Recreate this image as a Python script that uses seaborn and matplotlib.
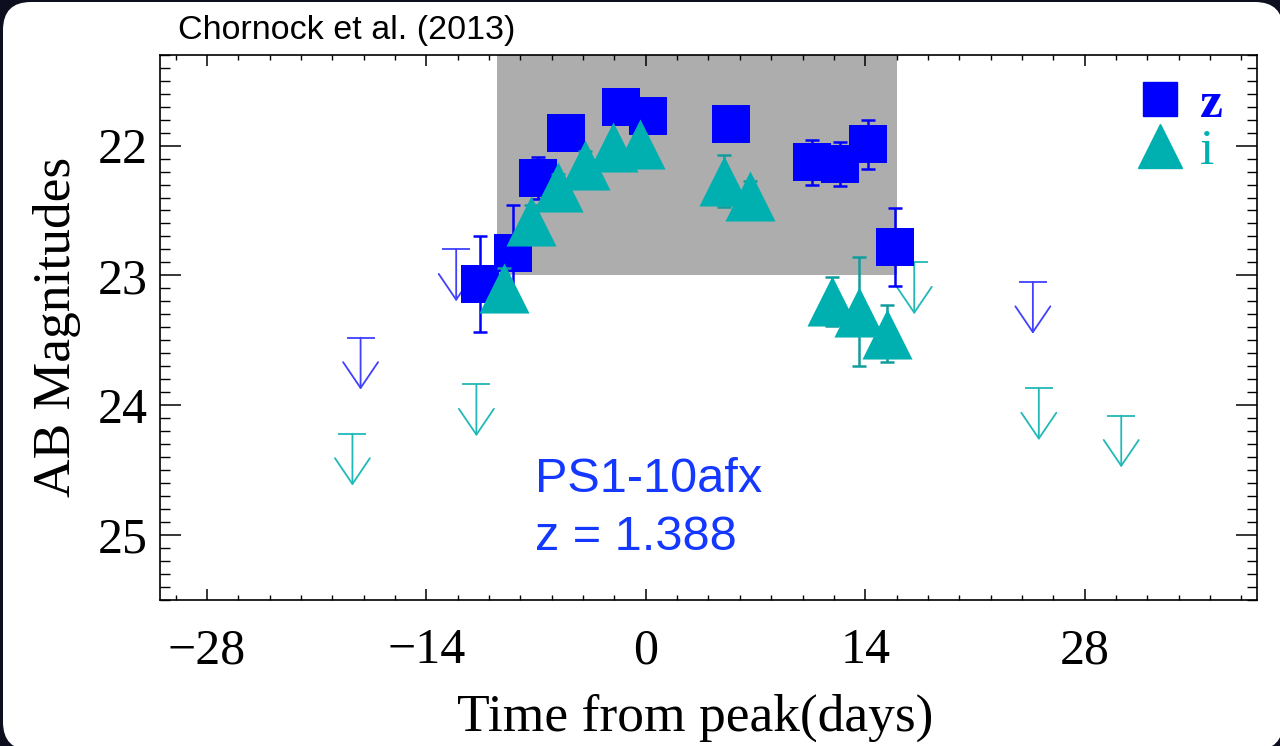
import pandas as pd
import seaborn as sns
import matplotlib.pyplot as plt
from matplotlib.lines import Line2D
from matplotlib.patches import FancyBboxPatch
from matplotlib.ticker import MultipleLocator

# z-band detections: days from peak, AB mag, 1-sigma error
z_days = [-10.6, -8.5, -6.86, -5.08, -1.58, 0.15, 5.45, 10.62, 12.39, 14.15, 15.88]
z_mags = [23.07, 22.83, 22.25, 21.90, 21.70, 21.77, 21.83, 22.13, 22.14, 21.99, 22.78]
z_errs = [0.37, 0.37, 0.16, 0.08, 0.06, 0.06, 0.07, 0.17, 0.17, 0.19, 0.30]

# i-band detections
i_days = [-9.08, -7.35, -5.58, -3.85, -2.07, -0.34, 4.96, 6.62, 11.86, 13.61, 15.38]
i_mags = [23.10, 22.58, 22.32, 22.15, 22.01, 21.99, 22.27, 22.39, 23.20, 23.28, 23.45]
i_errs = [0.16, 0.12, 0.10, 0.11, 0.08, 0.08, 0.20, 0.12, 0.19, 0.42, 0.22]

# upper limits (non-detections)
z_lim_days = [-18.2, -12.1, 24.7]
z_lim_mags = [23.48, 22.80, 23.05]
i_lim_days = [-18.72, -10.81, 17.13, 25.08, 30.34]
i_lim_mags = [24.22, 23.84, 22.90, 23.87, 24.08]

# shaded window around peak
window_days = [-9.5, 16.0]
window_faint = 23.0

x_ticks = [-28, -14, 0, 14, 28]
y_ticks = [22, 23, 24, 25]

Z_COLOR = "#0000ff"
I_COLOR = "#00b0b0"
ARROW_LEN = 0.4

sns.set_style("ticks")
plt.rcParams['font.family'] = ['Liberation Serif', 'DejaVu Serif']
plt.rcParams['text.color'] = 'black'
plt.rcParams['axes.labelcolor'] = 'black'
plt.rcParams['xtick.color'] = 'black'
plt.rcParams['ytick.color'] = 'black'

fig = plt.figure(figsize=(12.8, 7.46), dpi=100, facecolor="#0d0f1f")
panel = FancyBboxPatch((0.03, -0.04), 12.8, 7.48,
                       boxstyle="round,pad=0,rounding_size=0.28",
                       transform=fig.dpi_scale_trans,
                       facecolor="white", edgecolor="none", zorder=-1)
fig.add_artist(panel)

ax = fig.add_axes([0.125, 0.196, 0.857, 0.7306])

# grey box marking the peak
ax.fill_between(window_days, window_faint, 21.0, color="#adadad", lw=0, zorder=0)

z_df = pd.DataFrame({"day": z_days, "mag": z_mags, "err": z_errs})
i_df = pd.DataFrame({"day": i_days, "mag": i_mags, "err": i_errs})

sns.scatterplot(data=z_df, x="day", y="mag", marker="s", s=750,
                color=Z_COLOR, linewidth=0, ax=ax, zorder=3)
ax.errorbar(z_df["day"], z_df["mag"], yerr=z_df["err"], fmt="none",
            ecolor=Z_COLOR, elinewidth=1.8, capsize=5, capthick=1.8, zorder=4)

ax.errorbar(i_df["day"], i_df["mag"], yerr=i_df["err"], fmt="none",
            ecolor="#129c9c", elinewidth=1.8, capsize=5, capthick=1.8, zorder=4.5)
sns.scatterplot(data=i_df, x="day", y="mag", marker="^", s=1300,
                color=I_COLOR, linewidth=0, ax=ax, zorder=5)

# upper limit arrows: flat bar at the limit, open arrow pointing fainter
for days, mags, col in [(z_lim_days, z_lim_mags, "#4040ff"),
                        (i_lim_days, i_lim_mags, "#22b8b8")]:
    ax.plot(days, mags, ls="none", marker="_", markersize=20, mew=1.3,
            color=col, zorder=2)
    for d, m in zip(days, mags):
        ax.annotate("", xy=(d, m + ARROW_LEN), xytext=(d, m),
                    arrowprops=dict(arrowstyle="->,head_length=0.93,head_width=0.63",
                                    color=col, lw=1.3, shrinkA=0, shrinkB=0,
                                    mutation_scale=20),
                    zorder=2)

ax.set_xlim(-31, 39)
ax.set_ylim(25.5, 21.3)
ax.set_xticks(x_ticks)
ax.set_xticklabels([f"\u2212{abs(t)}" if t < 0 else str(t) for t in x_ticks])
ax.set_yticks(y_ticks)
ax.xaxis.set_minor_locator(MultipleLocator(2))
ax.yaxis.set_minor_locator(MultipleLocator(0.1))

ax.tick_params(axis="x", which="major", direction="in", length=8, width=1.1,
               labelsize=36, pad=20, top=True, bottom=True)
ax.tick_params(axis="x", which="minor", direction="in", length=3.5, width=1.0,
               top=True, bottom=True)
ax.tick_params(axis="y", which="major", direction="in", length=15, width=1.1,
               labelsize=36, pad=9, left=True, right=True)
ax.tick_params(axis="y", which="minor", direction="in", length=7.5, width=1.0,
               left=True, right=True)
for sp in ax.spines.values():
    sp.set_linewidth(1.2)
    sp.set_color("black")

ax.set_xlabel("Time from peak(days)", fontsize=38.5)
ax.xaxis.set_label_coords(0.4877, -0.172)
ax.set_ylabel("AB Magnitudes", fontsize=38.5, labelpad=12)

handles = [Line2D([], [], marker="s", ls="none", color=Z_COLOR, markersize=24),
           Line2D([], [], marker="^", ls="none", color=I_COLOR, markersize=31)]
leg = ax.legend(handles, ["z", "i"], loc="upper right", bbox_to_anchor=(0.969, 0.951),
                frameon=False, fontsize=37, labelcolor=[Z_COLOR, I_COLOR],
                handletextpad=0.25, labelspacing=0.0, borderpad=0, borderaxespad=0,
                handlelength=1.05)
leg.get_texts()[0].set_fontweight("bold")

ax.text(0.342, 0.198, "PS1-10afx", transform=ax.transAxes, fontsize=35,
        color="#1438ff", family=["Liberation Sans", "DejaVu Sans"], va="baseline")
ax.text(0.342, 0.092, "z = 1.388", transform=ax.transAxes, fontsize=35,
        color="#1438ff", family=["Liberation Sans", "DejaVu Sans"], va="baseline")

fig.text(0.139, 0.948, "Chornock et al. (2013)", fontsize=24.5,
         family=["Liberation Sans", "DejaVu Sans"], va="baseline")

fig.savefig("out.png", dpi=100, facecolor=fig.get_facecolor())
